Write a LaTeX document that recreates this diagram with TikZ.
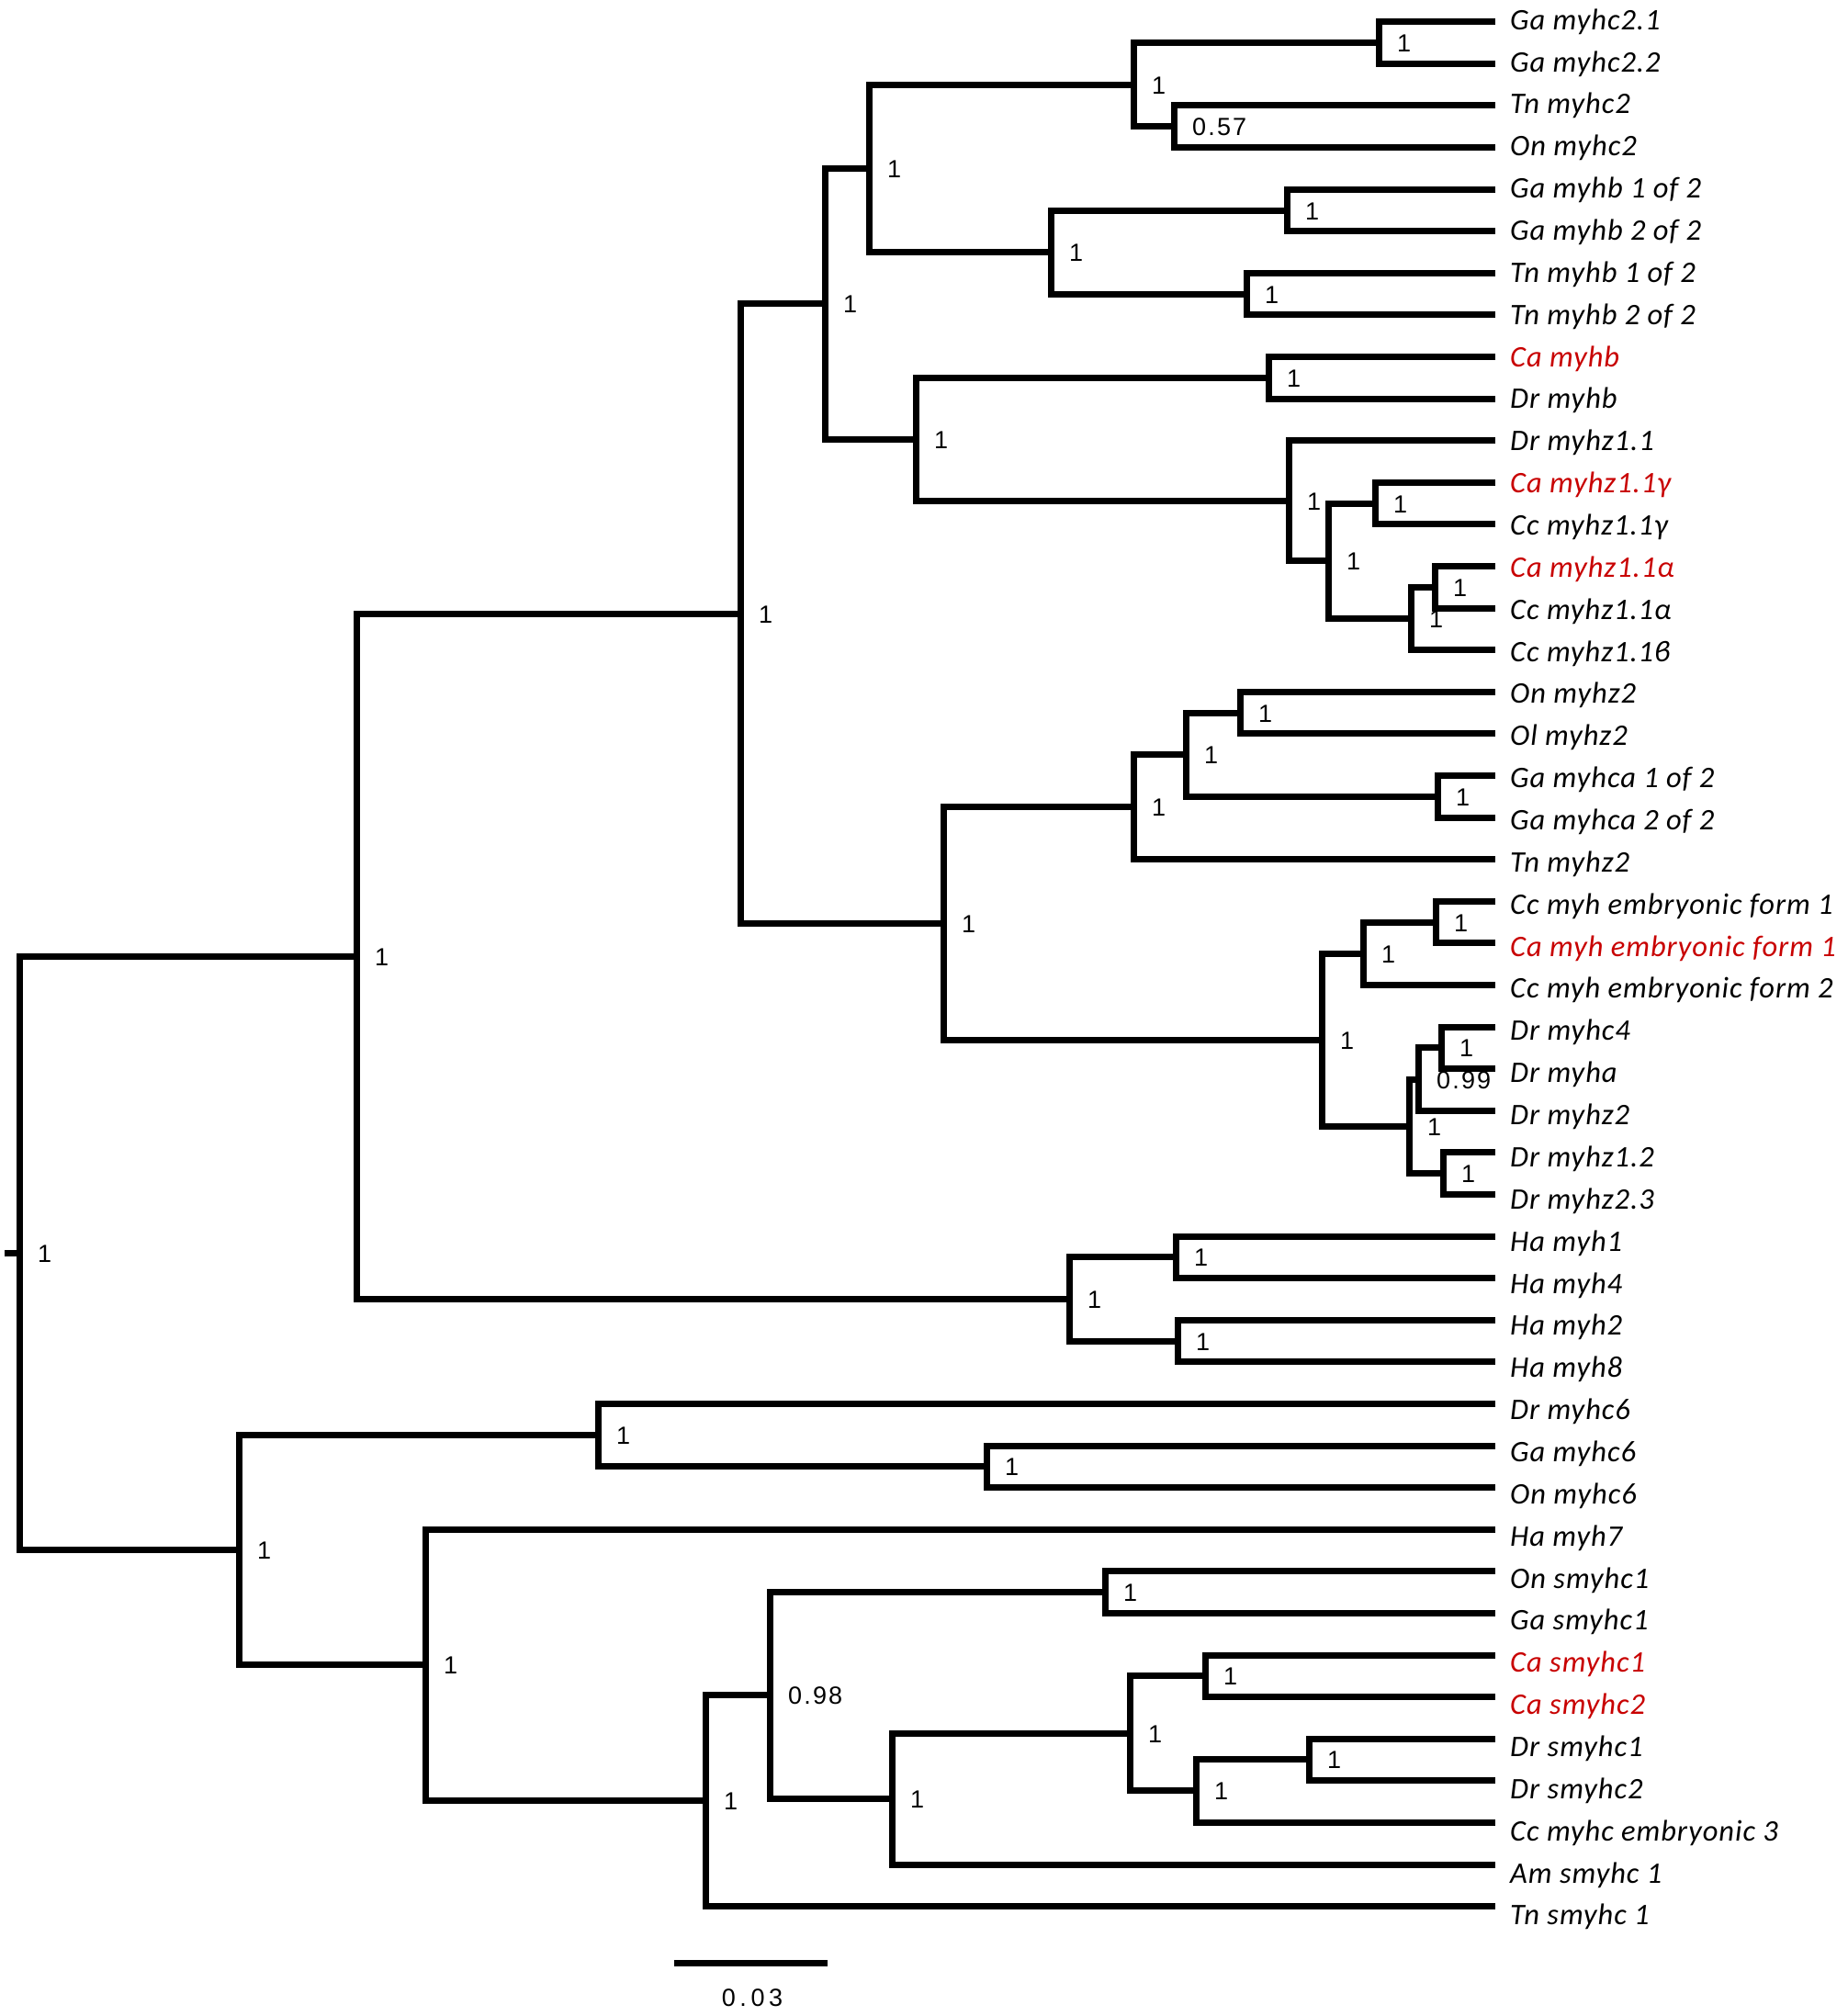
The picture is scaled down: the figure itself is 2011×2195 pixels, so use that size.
\documentclass[tikz,border=0pt]{standalone}
\usepackage{fontspec}
\setmainfont{Liberation Sans}
\newfontfamily\leaffont[LetterSpace=3]{Carlito}
\newfontfamily\supfont[LetterSpace=8]{Liberation Sans}
\newfontfamily\scalefont[LetterSpace=17]{Liberation Sans}
\definecolor{hired}{RGB}{200,0,0}
\begin{document}
\begin{tikzpicture}[x=1pt,y=-1pt,
  br/.style={line width=7pt,line join=miter},
  leaflab/.style={anchor=base west,inner sep=0pt,font=\leaffont\itshape\fontsize{32.5}{36}\selectfont},
  suplab/.style={anchor=base west,inner sep=0pt,font=\supfont\fontsize{27}{30}\selectfont}]
\useasboundingbox (0,0) rectangle (2011,2195);
% leaves
\foreach \i/\txt/\col in {
 0/{Ga myhc2.1}/black, 1/{Ga myhc2.2}/black, 2/{Tn myhc2}/black, 3/{On myhc2}/black,
 4/{Ga myhb 1 of 2}/black, 5/{Ga myhb 2 of 2}/black, 6/{Tn myhb 1 of 2}/black, 7/{Tn myhb 2 of 2}/black,
 8/{Ca myhb}/hired, 9/{Dr myhb}/black, 10/{Dr myhz1.1}/black, 11/{Ca myhz1.1γ}/hired,
 12/{Cc myhz1.1γ}/black, 13/{Ca myhz1.1α}/hired, 14/{Cc myhz1.1α}/black, 15/{Cc myhz1.1ϐ}/black,
 16/{On myhz2}/black, 17/{Ol myhz2}/black, 18/{Ga myhca 1 of 2}/black, 19/{Ga myhca 2 of 2}/black,
 20/{Tn myhz2}/black, 21/{Cc myh embryonic form 1}/black, 22/{Ca myh embryonic form 1}/hired,
 23/{Cc myh embryonic form 2}/black, 24/{Dr myhc4}/black, 25/{Dr myha}/black, 26/{Dr myhz2}/black,
 27/{Dr myhz1.2}/black, 28/{Dr myhz2.3}/black, 29/{Ha myh1}/black, 30/{Ha myh4}/black,
 31/{Ha myh2}/black, 32/{Ha myh8}/black, 33/{Dr myhc6}/black, 34/{Ga myhc6}/black,
 35/{On myhc6}/black, 36/{Ha myh7}/black, 37/{On smyhc1}/black, 38/{Ga smyhc1}/black,
 39/{Ca smyhc1}/hired, 40/{Ca smyhc2}/hired, 41/{Dr smyhc1}/black, 42/{Dr smyhc2}/black,
 43/{Cc myhc embryonic 3}/black, 44/{Am smyhc 1}/black, 45/{Tn smyhc 1}/black}{
  \coordinate (l\i) at (1628,{23.6+45.6*\i});
  \node[leaflab,text=\col] (t\i) at (1644,{32.2+45.86*\i}) {\txt};
}
% internal nodes
\foreach \n/\x/\y/\s in {
 A/1501/46.4/1, B/1278/137.8/0.57, C/1234/92.1/1, D/1401/229.2/1, E/1357/320.4/1,
 F/1144/274.8/1, G/946/183.5/1, H/1381/411.2/1, I/1562/639.2/1, J/1536/673.4/1,
 K/1497/548/1, L/1446/610.7/1, M/1403/545.2/1, N/997/478.2/1, O/898/330.9/1,
 P/1350/776/1, Q/1565/867.2/1, R/1291/821.6/1, S/1234/878.6/1, T/1563/1004/1,
 U/1484/1038.2/1, V/1569/1140.8/1, W/1544/1175/0.99, X/1571/1277.6/1, Y/1534/1226.3/1,
 Z/1439/1132.2/1, AA/1027/1005.4/1, AB/806/668.2/1, AD/1280/1368.8/1, AE/1282/1460/1,
 AF/1164/1414.4/1, AC/388/1041.3/1, AG/1074/1596.4/1, AH/651/1562.2/1, AI/1203/1733.2/1,
 AJ/1312/1824.4/1, AK/1425/1915.6/1, AL/1302/1949.8/1, AM/1230/1887.1/1, AN/971/1958.4/1,
 AO/838/1845.8/0.98, AP/768/1960.5/1, AQ/463/1812.6/1, AR/260/1687.4/1, ROOT/21/1364.4/1}{
  \coordinate (\n) at (\x,\y);
  \node[suplab] (s\n) at ({\x+20},{\y+10}) {\s};
}
\coordinate (stub) at (5,1364.4);
% branches
\foreach \a/\n/\b in {
 l0/A/l1, l2/B/l3, A/C/B, l4/D/l5, l6/E/l7, D/F/E, C/G/F, l8/H/l9, l13/I/l14, I/J/l15,
 l11/K/l12, K/L/J, l10/M/L, H/N/M, G/O/N, l16/P/l17, l18/Q/l19, P/R/Q, R/S/l20,
 l21/T/l22, T/U/l23, l24/V/l25, V/W/l26, l27/X/l28, W/Y/X, U/Z/Y, S/AA/Z, O/AB/AA,
 l29/AD/l30, l31/AE/l32, AD/AF/AE, AB/AC/AF, l34/AG/l35, l33/AH/AG, l37/AI/l38,
 l39/AJ/l40, l41/AK/l42, AK/AL/l43, AJ/AM/AL, AM/AN/l44, AI/AO/AN, AO/AP/l45,
 l36/AQ/AP, AH/AR/AQ, AC/ROOT/AR}{
  \draw[br] (\a) -| (\n) |- (\b);
}
\draw[br] (stub) -- (ROOT);
% scale bar
\coordinate (sb1) at (733.5,2137.5);
\coordinate (sb2) at (901,2137.5);
\draw[br] (sb1) -- (sb2);
\node[anchor=base,inner sep=0pt,font=\scalefont\fontsize{27}{30}\selectfont] (sblab) at (819,2184) {0.03};
\end{tikzpicture}
\end{document}
